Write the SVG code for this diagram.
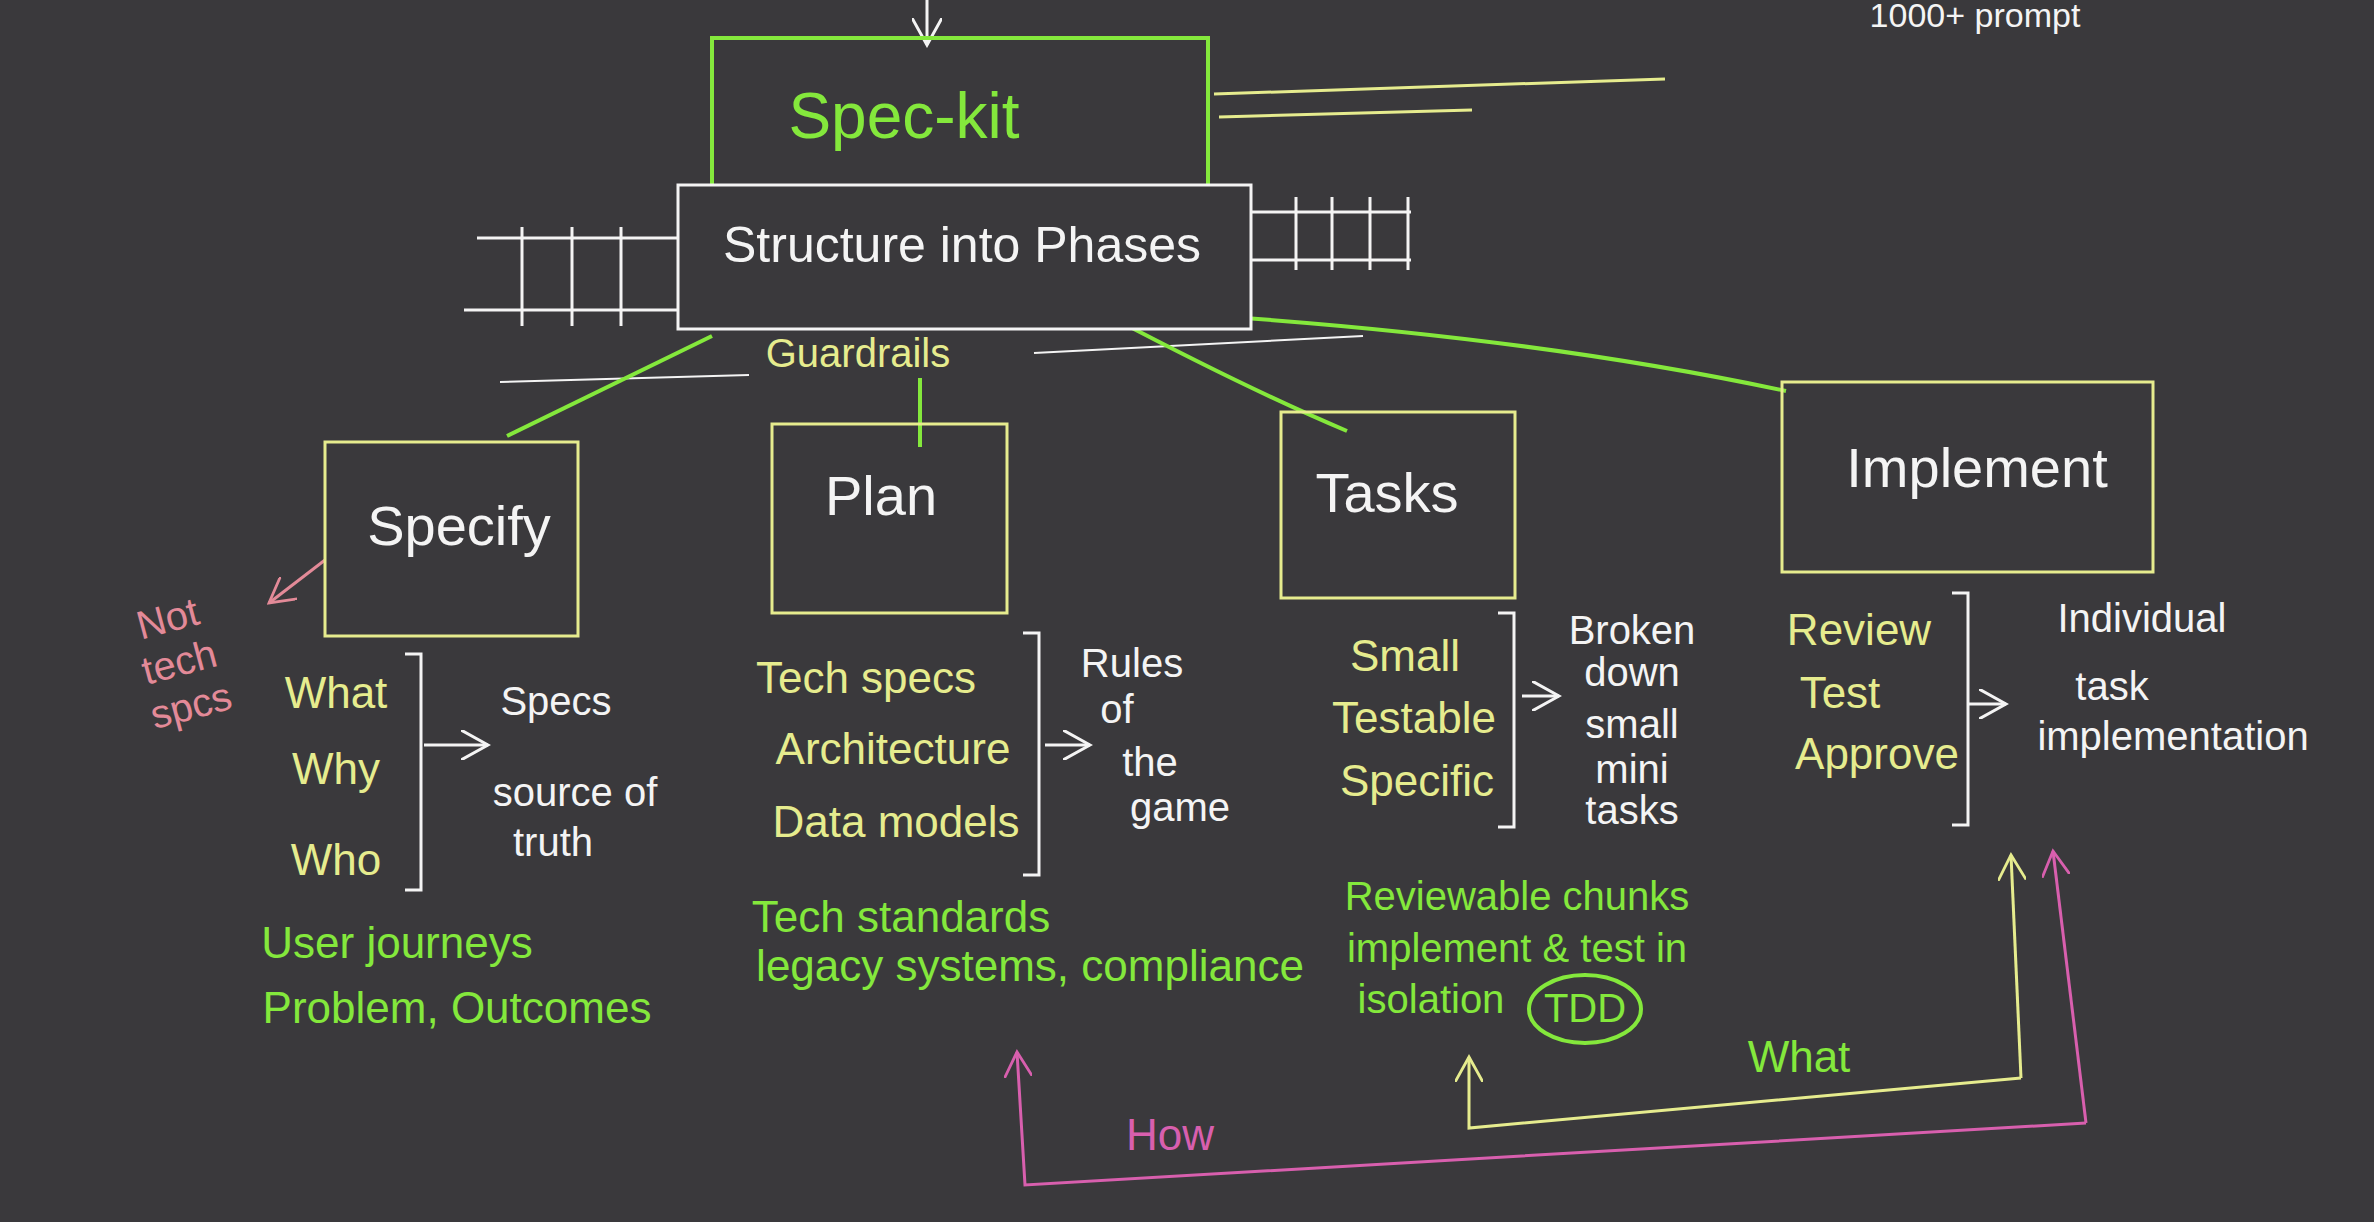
<svg xmlns="http://www.w3.org/2000/svg" width="2374" height="1222" viewBox="0 0 2374 1222">
<style>
text{font-family:"Liberation Sans",Arial,sans-serif;text-anchor:middle;dominant-baseline:middle}
.w{fill:#f4f4f4}.y{fill:#e6ec8e}.g{fill:#84e83c}.p{fill:#e38a98}.m{fill:#d85fae}
.sw{stroke:#f4f4f4;fill:none;stroke-width:3}
.sy{stroke:#e6ec8e;fill:none;stroke-width:3}
.sg{stroke:#84e83c;fill:none;stroke-width:4}
.sp{stroke:#d85fae;fill:none;stroke-width:3}
.t{font-size:56px}.l{font-size:44px}.s{font-size:40px}
</style>
<defs>
<marker id="ay" viewBox="0 0 10 10" refX="9" refY="5" markerWidth="28" markerHeight="28" markerUnits="userSpaceOnUse" orient="auto"><path d="M0,0 L9,5 L0,10" fill="none" stroke="#e6ec8e" stroke-width="1"/></marker>
<marker id="ap" viewBox="0 0 10 10" refX="9" refY="5" markerWidth="28" markerHeight="28" markerUnits="userSpaceOnUse" orient="auto"><path d="M0,0 L9,5 L0,10" fill="none" stroke="#d85fae" stroke-width="1"/></marker>
<marker id="ak" viewBox="0 0 10 10" refX="9" refY="5" markerWidth="28" markerHeight="28" markerUnits="userSpaceOnUse" orient="auto"><path d="M0,0 L9,5 L0,10" fill="none" stroke="#e38a98" stroke-width="1"/></marker>
<marker id="aw2" viewBox="0 0 10 10" refX="9" refY="5" markerWidth="30" markerHeight="30" markerUnits="userSpaceOnUse" orient="auto"><path d="M0,0 L9,5 L0,10" fill="none" stroke="#f4f4f4" stroke-width="1"/></marker>
</defs>
<rect width="2374" height="1222" fill="#3a393c"/>
<text class="w" font-size="34" x="1975" y="18" text-anchor="start">1000+ prompt</text>

<g id="connectors">
<line class="sw" x1="927" y1="0" x2="927" y2="45" marker-end="url(#aw2)"/>
<line class="sy" x1="1214" y1="94" x2="1665" y2="79" stroke-width="5"/>
<line class="sy" x1="1219" y1="117" x2="1472" y2="110" stroke-width="5"/>
<g class="sw">
<line x1="477" y1="238" x2="678" y2="238"/><line x1="464" y1="310" x2="678" y2="310"/>
<line x1="522" y1="227" x2="522" y2="326"/><line x1="572" y1="227" x2="572" y2="326"/><line x1="621" y1="227" x2="621" y2="326"/>
<line x1="1251" y1="212" x2="1411" y2="212"/><line x1="1251" y1="260" x2="1411" y2="260"/>
<line x1="1296" y1="197" x2="1296" y2="270"/><line x1="1332" y1="197" x2="1332" y2="270"/><line x1="1370" y1="197" x2="1370" y2="270"/><line x1="1408" y1="197" x2="1408" y2="270"/>
<line x1="500" y1="382" x2="749" y2="375" stroke-width="2"/><line x1="1034" y1="353" x2="1363" y2="336" stroke-width="2"/>
</g>
<g class="sg" stroke-width="5">
<line x1="712" y1="336" x2="507" y2="436"/>
<line x1="920" y1="378" x2="920" y2="447"/>
<path d="M1113,318 Q1250,390 1347,431"/>
<path d="M1117,310 Q1500,330 1786,391"/>
</g>
<line x1="325" y1="560" x2="269" y2="603" stroke="#e38a98" stroke-width="3" marker-end="url(#ak)"/>
<line class="sw" x1="424" y1="745" x2="488" y2="745" marker-end="url(#aw2)"/>
<line class="sw" x1="1045" y1="745" x2="1090" y2="745" marker-end="url(#aw2)"/>
<line class="sw" x1="1522" y1="696" x2="1559" y2="696" marker-end="url(#aw2)"/>
<line class="sw" x1="1968" y1="704" x2="2006" y2="704" marker-end="url(#aw2)"/>
<path class="sy" d="M2021,1078 L2011,855" marker-end="url(#ay)"/>
<path class="sy" d="M2021,1078 L1469,1128 L1469,1057" marker-end="url(#ay)"/>
<path class="sp" d="M2086,1123 L2053,851" marker-end="url(#ap)"/>
<path class="sp" d="M2086,1123 L1025,1185 L1017,1052" marker-end="url(#ap)"/>
</g>

<g id="speckit"><rect x="712" y="38" width="496" height="166" fill="none" stroke="#84e83c" stroke-width="4"/><text class="g" x="904" y="121" font-size="64">Spec-kit</text></g>
<g id="structure"><rect x="678" y="185" width="573" height="144" fill="#3a393c" stroke="#f4f4f4" stroke-width="3"/><text class="w" x="962" y="249" font-size="50">Structure into Phases</text></g>
<g id="guardrails"><text class="y s" x="858" y="356">Guardrails</text></g>

<g id="specify"><rect class="sy" x="325" y="442" width="253" height="194"/><text class="w t" x="459" y="530">Specify</text>
<g transform="rotate(-15 180 665)"><text class="p s" x="180" y="620">Not</text><text class="p s" x="180" y="665">tech</text><text class="p s" x="180" y="710">spcs</text></g>
<text class="y l" x="336" y="696">What</text><text class="y l" x="336" y="772">Why</text><text class="y l" x="336" y="863">Who</text>
<path class="sw" d="M405,654 H421 V890 H405"/>
<text class="w s" x="556" y="704">Specs</text><text class="w s" x="575" y="795">source of</text><text class="w s" x="553" y="845">truth</text>
<text class="g l" x="397" y="946">User journeys</text><text class="g l" x="457" y="1011">Problem, Outcomes</text></g>

<g id="plan"><rect class="sy" x="772" y="424" width="235" height="189"/><text class="w t" x="881" y="500">Plan</text>
<text class="y l" x="866" y="681">Tech specs</text><text class="y l" x="893" y="752">Architecture</text><text class="y l" x="896" y="825">Data models</text>
<path class="sw" d="M1023,633 H1039 V875 H1023"/>
<text class="w s" x="1132" y="666">Rules</text><text class="w s" x="1117" y="712">of</text><text class="w s" x="1150" y="765">the</text><text class="w s" x="1180" y="810">game</text>
<text class="g l" x="901" y="920">Tech standards</text><text class="g l" x="1030" y="969">legacy systems, compliance</text></g>

<g id="tasks"><rect class="sy" x="1281" y="412" width="234" height="186"/><text class="w t" x="1387" y="497">Tasks</text>
<text class="y l" x="1405" y="659">Small</text><text class="y l" x="1414" y="721">Testable</text><text class="y l" x="1417" y="784">Specific</text>
<path class="sw" d="M1498,613 H1514 V827 H1498"/>
<text class="w s" x="1632" y="633">Broken</text><text class="w s" x="1632" y="675">down</text><text class="w s" x="1632" y="727">small</text><text class="w s" x="1632" y="772">mini</text><text class="w s" x="1632" y="813">tasks</text>
<text class="g s" x="1517" y="899">Reviewable chunks</text><text class="g s" x="1517" y="951">implement &amp; test in</text><text class="g s" x="1431" y="1002">isolation</text>
<ellipse class="sg" cx="1585" cy="1009" rx="56" ry="34" stroke-width="3"/><text class="g s" x="1585" y="1011">TDD</text></g>

<g id="implement"><rect class="sy" x="1782" y="382" width="371" height="190"/><text class="w t" x="1977" y="472">Implement</text>
<text class="y l" x="1859" y="633">Review</text><text class="y l" x="1840" y="696">Test</text><text class="y l" x="1877" y="757">Approve</text>
<path class="sw" d="M1952,593 H1968 V825 H1952"/>
<text class="w s" x="2142" y="621">Individual</text><text class="w s" x="2112" y="689">task</text><text class="w s" x="2173" y="739">implementation</text></g>

<g id="labels"><text class="g l" x="1799" y="1060">What</text><text class="m l" x="1170" y="1138">How</text></g>
</svg>
